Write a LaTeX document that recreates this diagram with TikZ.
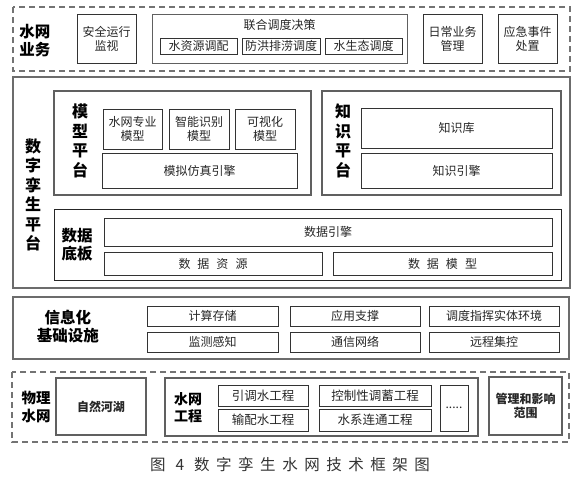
\documentclass[tikz,border=0pt]{standalone}
\usepackage{fontspec}
\setmainfont{Noto Sans CJK SC}
\newfontfamily\capfont[LetterSpace=42]{Noto Sans CJK SC}
\newcommand{\gap}{\hspace{7pt}}
\usetikzlibrary{positioning}

\begin{document}
\begin{tikzpicture}[x=1pt, y=-1pt,
    layer/.style={draw=gray!85!black, line width=1.4pt},
    dlayer/.style={draw=gray!90!black, line width=1.2pt, dash pattern=on 6pt off 4pt},
    part/.style={draw=gray!75!black, line width=1.1pt},
    ibox/.style={draw=black!80, line width=0.8pt, align=center, inner sep=1pt,
      text=black!85, font=\fontsize{12}{14}\selectfont},
    lbl/.style={align=center, text=black, font=\bfseries\fontsize{15.5}{18}\selectfont},
    vlbl/.style={align=center, text=black, font=\bfseries\fontsize{16}{19.5}\selectfont}]
  \useasboundingbox (0,0) rectangle (582,479);

  % water network business
  \draw[dlayer] (13,7) rectangle (570,71);
  \node[lbl] (ywlbl) at (35,41) {水网\\业务};
  \node[ibox, minimum width=59, minimum height=49] (aqjk) at (106.5,38.5) {安全运行\\监视};
  \draw[part, line width=0.9pt] (152,14) rectangle (407,63);
  \node[ibox, draw=none] (lhdd) at (279.5,25) {联合调度决策};
  \node[ibox, minimum width=77, minimum height=16] (szy) at (198.5,46) {水资源调配};
  \node[ibox, minimum width=78, minimum height=16] (fhpl) at (281,46) {防洪排涝调度};
  \node[ibox, minimum width=77, minimum height=16] (sst) at (363.5,46) {水生态调度};
  \node[ibox, minimum width=59, minimum height=49] (rcyw) at (452.5,38.5) {日常业务\\管理};
  \node[ibox, minimum width=59, minimum height=49] (yjsj) at (527.5,38.5) {应急事件\\处置};

  % digital twin platform
  \draw[layer] (13,77) rectangle (570,288);
  \node[vlbl] (szlbl) at (33,195) {数\\字\\孪\\生\\平\\台};
  % model platform
  \draw[part] (54,91) rectangle (311,195);
  \node[vlbl] (mxlbl) at (80,141) {模\\型\\平\\台};
  \node[ibox, minimum width=59, minimum height=40] (swzy) at (132.5,129) {水网专业\\模型};
  \node[ibox, minimum width=60, minimum height=40] (znsb) at (199,129) {智能识别\\模型};
  \node[ibox, minimum width=60, minimum height=40] (ksh) at (265,129) {可视化\\模型};
  \node[ibox, minimum width=195, minimum height=35] (mnfz) at (199.5,170.5) {模拟仿真引擎};
  % knowledge platform
  \draw[part] (322,91) rectangle (561,195);
  \node[vlbl] (zslbl) at (343,141) {知\\识\\平\\台};
  \node[ibox, minimum width=191, minimum height=40] (zsk) at (456.5,128) {知识库};
  \node[ibox, minimum width=191, minimum height=35] (zsyq) at (456.5,170.5) {知识引擎};
  % data base plate
  \draw[draw=black!85, line width=1pt] (54,209) rectangle (561,280);
  \node[lbl] (sjlbl) at (77,245) {数据\\底板};
  \node[ibox, minimum width=448, minimum height=28] (sjyq) at (328,232) {数据引擎};
  \node[ibox, minimum width=218, minimum height=23] (sjzy) at (213,263.5) {数\gap 据\gap 资\gap 源};
  \node[ibox, minimum width=219, minimum height=23] (sjmx) at (442.5,263.5) {数\gap 据\gap 模\gap 型};

  % information infrastructure
  \draw[layer] (13,297) rectangle (569,359);
  \node[lbl] (xxlbl) at (68,327) {信息化\\基础设施};
  \node[ibox, minimum width=131, minimum height=20] (jscc) at (212.5,316) {计算存储};
  \node[ibox, minimum width=130, minimum height=20] (yyzc) at (355,316) {应用支撑};
  \node[ibox, minimum width=130, minimum height=20] (ddzh) at (494,316) {调度指挥实体环境};
  \node[ibox, minimum width=131, minimum height=20] (jcgz) at (212.5,342) {监测感知};
  \node[ibox, minimum width=130, minimum height=20] (txwl) at (355,342) {通信网络};
  \node[ibox, minimum width=130, minimum height=20] (ycjk) at (494,342) {远程集控};

  % physical water network
  \draw[dlayer] (12,372) rectangle (569,442);
  \node[lbl, font=\bfseries\fontsize{14.5}{18}\selectfont] (wllbl) at (36,407) {物理\\水网};
  \node[ibox, draw=gray!75!black, line width=1.1pt, minimum width=90, minimum height=57,
    font=\bfseries\fontsize{12}{14}\selectfont] (zrhh) at (101,406.5) {自然河湖};
  \draw[part] (165,378) rectangle (478,436);
  \node[lbl, font=\bfseries\fontsize{14}{17}\selectfont] (gclbl) at (188,408) {水网\\工程};
  \node[ibox, font=\fontsize{12.5}{14}\selectfont, minimum width=90, minimum height=21] (ydsgc) at (263,395.5) {引调水工程};
  \node[ibox, font=\fontsize{12.5}{14}\selectfont, minimum width=90, minimum height=22] (psgc) at (263,420) {输配水工程};
  \node[ibox, font=\fontsize{12.5}{14}\selectfont, minimum width=112, minimum height=21] (kzxgc) at (375,395.5) {控制性调蓄工程};
  \node[ibox, font=\fontsize{12.5}{14}\selectfont, minimum width=112, minimum height=22] (sxltgc) at (375,420) {水系连通工程};
  \node[ibox, minimum width=28, minimum height=46] (more) at (454,408) {.....};
  \node[ibox, draw=gray!75!black, line width=1.1pt, minimum width=73, minimum height=58,
    font=\bfseries\fontsize{12}{14}\selectfont] (glfw) at (525.5,406) {管理和影响\\范围};

  % caption
  \node[text=black!80, font=\capfont\fontsize{15.5}{18}\selectfont] (cap) at (290,465) {图\ 4\ 数字孪生水网技术框架图};
\end{tikzpicture}
\end{document}
